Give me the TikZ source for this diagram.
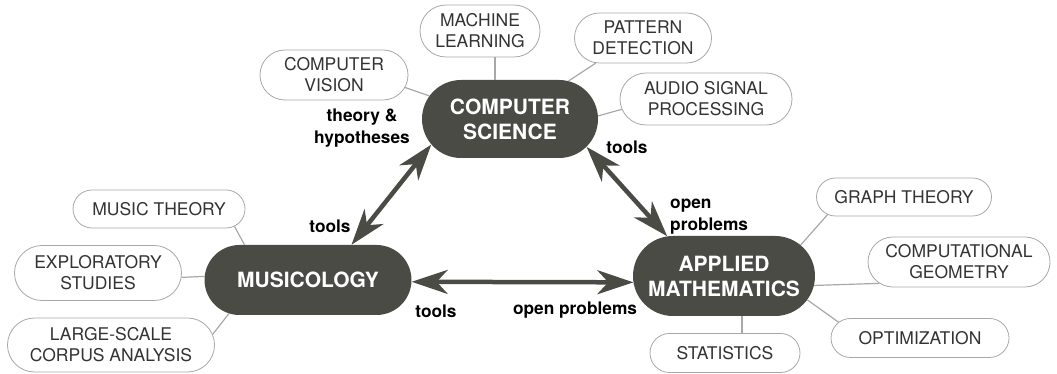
\documentclass[tikz,border=0pt]{standalone}
\usepackage{fontspec}
\setmainfont{TeX Gyre Heros}
\usetikzlibrary{shapes.misc}
\usetikzlibrary{arrows.meta}
\definecolor{hubgray}{HTML}{4B4B45}
\definecolor{leafline}{HTML}{A8A8A8}
\definecolor{leaftext}{HTML}{333333}

\begin{document}
\begin{tikzpicture}[x=1pt,y=1pt,
	hub/.style={rounded rectangle,fill=hubgray,text=white,font=\fontsize{21}{25}\selectfont\bfseries,align=center,inner sep=0pt},
	leaf/.style={rounded rectangle,draw=leafline,line width=0.8pt,fill=white,text=leaftext,font=\fontsize{17.5}{21}\selectfont,align=center,inner sep=0pt},
	link/.style={leafline,line width=1.2pt},
	flow/.style={hubgray,line width=4.5pt,{Stealth[length=36pt,width=24pt,inset=11pt]}-{Stealth[length=36pt,width=24pt,inset=11pt]}},
	lbl/.style={font=\fontsize{17.3}{22.5}\selectfont\bfseries,inner sep=0pt}]
	\useasboundingbox (0,0) rectangle (1057,374);
	% the three fields
	\node[hub,minimum width=176pt,minimum height=78pt] (cs) at (510,255) {COMPUTER\\SCIENCE};
	\node[hub,minimum width=207pt,minimum height=70pt] (mus) at (308,94) {MUSICOLOGY};
	\node[hub,minimum width=182pt,minimum height=80pt] (am) at (724,98) {APPLIED\\MATHEMATICS};
	% sub-topics
	\node[leaf,minimum width=120pt,minimum height=52pt] (ml) at (480,343) {MACHINE\\LEARNING};
	\node[leaf,minimum width=137pt,minimum height=50pt] (pd) at (643,336) {PATTERN\\DETECTION};
	\node[leaf,minimum width=148pt,minimum height=50pt] (cv) at (334,299) {COMPUTER\\VISION};
	\node[leaf,minimum width=172pt,minimum height=52pt] (asp) at (706,275) {AUDIO SIGNAL\\PROCESSING};
	\node[leaf,minimum width=172pt,minimum height=38pt] (mt) at (159,165) {MUSIC THEORY};
	\node[leaf,minimum width=167pt,minimum height=55pt] (es) at (98,101) {EXPLORATORY\\STUDIES};
	\node[leaf,minimum width=207pt,minimum height=54pt] (lca) at (111,29) {LARGE-SCALE\\CORPUS ANALYSIS};
	\node[leaf,minimum width=175pt,minimum height=38pt] (gt) at (904,177) {GRAPH THEORY};
	\node[leaf,minimum width=182pt,minimum height=50pt] (cg) at (959,112) {COMPUTATIONAL\\GEOMETRY};
	\node[leaf,minimum width=178pt,minimum height=39pt] (opt) at (920,36) {OPTIMIZATION};
	\node[leaf,minimum width=150pt,minimum height=39pt] (stat) at (725,21) {STATISTICS};
	\draw[link] ([xshift=15pt]ml.south) -- ([xshift=-15pt]cs.north);
	\draw[link] (pd.-152.5) -- (cs.33.4);
	\draw[link] (cv.-10.4) -- (cs.164.6);
	\draw[link] (asp.187.3) -- (cs.2.6);
	\draw[link] (mt.-13.5) -- (mus.151.6);
	\draw[link] (es.-3.4) -- (mus.178.9);
	\draw[link] (lca.6.8) -- (mus.-157.6);
	\draw[link] (gt.-167.8) -- (am.22);
	\draw[link] (cg.-165.7) -- (am.-6.9);
	\draw[link] (opt.169) -- (am.-16.4);
	\draw[link] ([xshift=17pt]stat.north) -- ([xshift=18pt]am.south);
	% exchanges
	\draw[flow] (cs.-162) -- (mus.39.4);
	\draw[flow] (cs.-20) -- (am.145);
	\draw[flow] (mus.-1.7) -- (am.184.4);
	\node[lbl,align=center] (th) at (362,246) {theory \&\\hypotheses};
	\node[lbl] (t1) at (627,227) {tools};
	\node[lbl] (t2) at (330,148) {tools};
	\node[lbl,align=left,anchor=west] (op1) at (670,157.5) {open\\problems};
	\node[lbl] (t3) at (436,63) {tools};
	\node[lbl] (op2) at (575,64) {open problems};
\end{tikzpicture}
\end{document}
